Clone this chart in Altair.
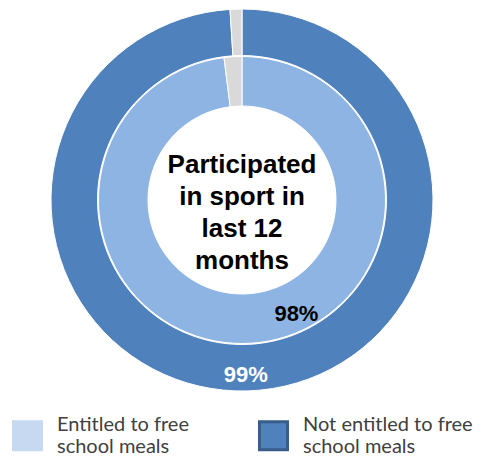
import altair as alt
import pandas as pd

# ---- data ----
outer_segments = ["Not entitled to free school meals", "Did not participate"]
outer_values = [99, 1]
inner_segments = ["Entitled to free school meals", "Did not participate"]
inner_values = [98, 2]
center_lines = ["Participated", "in sport in", "last 12", "months"]
legend_groups = ["Entitled to free school meals", "Not entitled to free school meals"]
legend_lines = [["Entitled to free", "school meals"], ["Not entitled to free", "school meals"]]

outer_df = pd.DataFrame({"segment": outer_segments, "value": outer_values, "idx": range(len(outer_values))})
inner_df = pd.DataFrame({"segment": inner_segments, "value": inner_values, "idx": range(len(inner_values))})
outer_df["label"] = outer_df["value"].astype(str) + "%"
inner_df["label"] = inner_df["value"].astype(str) + "%"
legend_df = pd.DataFrame({"group": legend_groups})

W, H = 469, 450
cx, cy = 234, 192

ring_scale = alt.Scale(
    domain=["Entitled to free school meals", "Not entitled to free school meals", "Did not participate"],
    range=["#8eb4e3", "#4f81bd", "#d9d9d9"],
)

def ring(df, r_out, r_in):
    return alt.Chart(df).mark_arc(radius=r_out, radius2=r_in, stroke="white", strokeWidth=1).encode(
        x=alt.value(cx), y=alt.value(cy),
        theta=alt.Theta("value:Q", stack=True),
        color=alt.Color("segment:N", scale=ring_scale, legend=None),
        order=alt.Order("idx:Q"),
    )

outer = ring(outer_df, 191, 144.5)
inner = ring(inner_df, 143.5, 94)

inner_label = alt.Chart(inner_df).transform_filter("datum.idx == 0").mark_text(
    theta=2.695, radius=126, font="Liberation Sans", fontWeight="bold", fontSize=22,
    color="#000000", align="center", baseline="middle",
).encode(x=alt.value(cx), y=alt.value(cy), text="label:N")

outer_label = alt.Chart(outer_df).transform_filter("datum.idx == 0").mark_text(
    theta=3.12, radius=175, font="Liberation Sans", fontWeight="bold", fontSize=22,
    color="#ffffff", align="center", baseline="middle",
).encode(x=alt.value(cx), y=alt.value(cy), text="label:N")

center = alt.Chart(pd.DataFrame({"k": [0]})).mark_text(
    font="Liberation Sans", fontWeight="bold", fontSize=26, lineHeight=32,
    color="#000000", align="center", baseline="middle",
).encode(x=alt.value(cx), y=alt.value(cy - 35), text=alt.value(center_lines))

label_expr = (
    "datum.label == '" + legend_groups[0] + "' ? " + str(legend_lines[0]) + " : " + str(legend_lines[1])
)
leg = alt.Legend(
    title=None, orient="none", legendX=4, legendY=412, direction="horizontal", columns=2,
    symbolType="square", symbolSize=784, symbolStrokeWidth=3, labelFont="Lato", labelFontSize=20,
    labelColor="#404040", labelOffset=14, columnPadding=64, labelLimit=400, padding=0,
    labelBaseline="line-bottom", labelExpr=label_expr,
)
legend_layer = alt.Chart(legend_df).mark_square(size=0, filled=True, strokeWidth=3, opacity=1).encode(
    x=alt.value(cx), y=alt.value(cy),
    fill=alt.Fill("group:N", scale=alt.Scale(domain=legend_groups, range=["#c6d9f1", "#4f81bd"]), legend=leg),
    stroke=alt.Stroke("group:N", scale=alt.Scale(domain=legend_groups, range=["#c6d9f1", "#385d8a"]), legend=leg),
)

chart = alt.layer(
    legend_layer, outer, inner, center, inner_label, outer_label
).properties(width=W, height=H, autosize=alt.AutoSizeParams(type="none"), padding=0).configure_view(stroke=None)

chart.save("out.html", embed_options={"renderer": "svg", "actions": False})
